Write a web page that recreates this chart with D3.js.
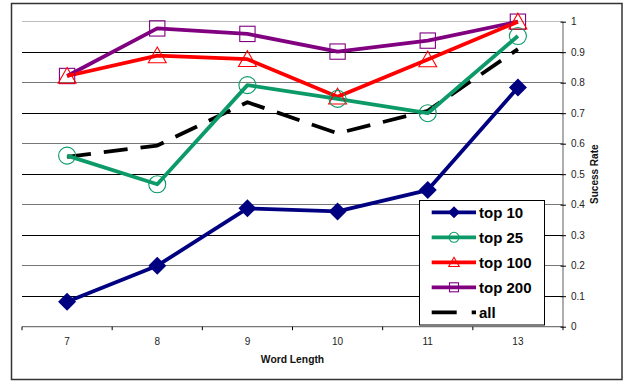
<!DOCTYPE html>
<html><head><meta charset="utf-8">
<script src="https://cdn.jsdelivr.net/npm/d3@7"></script>
<style>body{margin:0;background:#fff}svg{display:block}text{font-family:"Liberation Sans",Arial,sans-serif}</style>
</head><body><svg id="c" width="626" height="381"></svg>
<script>
const categories = ["7","8","9","10","11","13"];
const top10  = [0.082, 0.200, 0.388, 0.378, 0.448, 0.784];
const top25  = [0.561, 0.467, 0.792, 0.747, 0.700, 0.953];
const top100 = [0.822, 0.889, 0.877, 0.754, 0.876, 1.000];
const top200 = [0.822, 0.978, 0.960, 0.902, 0.938, 1.000];
const all    = [0.557, 0.594, 0.736, 0.634, 0.708, 0.910];
const yTicks = [0,0.1,0.2,0.3,0.4,0.5,0.6,0.7,0.8,0.9,1];

const series = [
  {name:"top 10", values:top10, color:"#000080", marker:"diamond"},
  {name:"top 25", values:top25, color:"#0c9a68", marker:"circle"},
  {name:"top 100", values:top100, color:"#ff0000", marker:"triangle"},
  {name:"top 200", values:top200, color:"#800080", marker:"square"},
  {name:"all", values:all, color:"#000000", marker:"none", dash:"24,13"}
];

const svg = d3.select("#c");
const L=22, R=563, T=21.7, B=326.7;
const x = d3.scaleBand().domain(categories).range([L,R]);
const y = d3.scaleLinear().domain([0,1]).range([B,T]);

// outer border
svg.append("rect").attr("x",11.5).attr("y",3.5).attr("width",610.5).attr("height",376)
  .attr("fill","#fff").attr("stroke","#333").attr("stroke-width",1.5);

// gridlines
svg.append("g").selectAll("line").data(yTicks.filter(d=>d>0)).join("line")
  .attr("x1",L).attr("x2",R).attr("y1",d=>y(d)).attr("y2",d=>y(d))
  .attr("stroke",(d,i)=> d===1 ? "#bbb" : (Math.round(d*10)%2===0 ? "#777" : "#000"))
  .attr("stroke-width",1).attr("shape-rendering","crispEdges");

// x axis
const xAxis = svg.append("g").attr("transform",`translate(0,${B})`);
xAxis.append("line").attr("x1",L).attr("x2",R).attr("stroke","#777").attr("stroke-width",1.2);
const bounds = categories.map(c=>x(c)).concat([R]);
xAxis.selectAll("line.t").data(bounds).join("line").attr("class","t")
  .attr("x1",d=>d).attr("x2",d=>d).attr("y1",0).attr("y2",3.5).attr("stroke","#000").attr("stroke-width",1);
xAxis.selectAll("text").data(categories).join("text")
  .attr("x",d=>x(d)+x.bandwidth()/2).attr("y",18.5).attr("text-anchor","middle")
  .attr("font-size",10).attr("fill","#222").text(d=>d);

// y axis on right
const yAxis = d3.axisRight(y).tickValues(yTicks).tickFormat(d3.format("~g")).tickSize(3).tickPadding(5);
const ya = svg.append("g").attr("transform",`translate(${R},0)`).call(yAxis);
ya.select(".domain").attr("stroke","#777").attr("stroke-width",1.2).attr("d",`M0,${B}V${T}`);
ya.selectAll(".tick line").attr("stroke","#000").attr("x1",-2.5).attr("x2",3);
ya.selectAll(".tick text").attr("font-size",10).attr("fill","#222").attr("font-family","Liberation Sans, Arial, sans-serif");

// titles
svg.append("text").attr("x",(L+R)/2).attr("y",362.5).attr("text-anchor","middle")
  .attr("font-size",10.3).attr("font-weight","bold").attr("fill","#111").text("Word Length");
svg.append("text").attr("transform",`translate(597.5,${(T+B)/2}) rotate(-90)`).attr("text-anchor","middle")
  .attr("font-size",10).attr("font-weight","bold").attr("fill","#111").text("Sucess Rate");

// markers
function marker(g, type, color, s){
  if(type==="diamond") g.append("path").attr("d",`M0,${-s}L${s},0L0,${s}L${-s},0Z`).attr("fill",color);
  else if(type==="circle") g.append("circle").attr("r",s).attr("fill","none").attr("stroke",color).attr("stroke-width",1.1);
  else if(type==="triangle") g.append("path").attr("d",`M0,${-s}L${s*1.05},${s*0.85}L${-s*1.05},${s*0.85}Z`).attr("fill","none").attr("stroke",color).attr("stroke-width",1.1);
  else if(type==="square") g.append("rect").attr("x",-s*0.9).attr("y",-s*0.9).attr("width",s*1.8).attr("height",s*1.8).attr("fill","none").attr("stroke",color).attr("stroke-width",1.1);
}

const line = d3.line().x((d,i)=>x(categories[i])+x.bandwidth()/2).y(d=>y(d));
const drawOrder = [4,3,2,1,0];
drawOrder.forEach(k=>{
  const s = series[k];
  svg.append("path").datum(s.values).attr("d",line).attr("fill","none")
    .attr("stroke",s.color).attr("stroke-width",3.8).attr("stroke-linejoin","round")
    .attr("stroke-dasharray",s.dash||null);
});
drawOrder.forEach(k=>{
  const s = series[k];
  if(s.marker==="none") return;
  s.values.forEach((v,i)=>{
    const g = svg.append("g").attr("transform",`translate(${x(categories[i])+x.bandwidth()/2},${y(v)})`);
    marker(g, s.marker, s.color, s.marker==="diamond"?9:8.5);
  });
});

// legend
const lg = svg.append("g");
lg.append("rect").attr("x",419.5).attr("y",200.5).attr("width",125).attr("height",124.5)
  .attr("fill","#fff").attr("stroke","#000").attr("stroke-width",1);
series.forEach((s,i)=>{
  const yy = 212.3 + i*25;
  lg.append("line").attr("x1",431.7).attr("x2",476).attr("y1",yy).attr("y2",yy)
    .attr("stroke",s.color).attr("stroke-width",3.8).attr("stroke-dasharray",s.dash?"25,15":null);
  if(s.marker!=="none"){
    const g = lg.append("g").attr("transform",`translate(454,${yy})`);
    marker(g, s.marker, s.color, s.marker==="diamond"?6:5);
  }
  lg.append("text").attr("x",479).attr("y",yy+5.3).attr("font-size",15).attr("font-weight","bold")
    .attr("fill","#000").text(s.name);
});
</script></body></html>
